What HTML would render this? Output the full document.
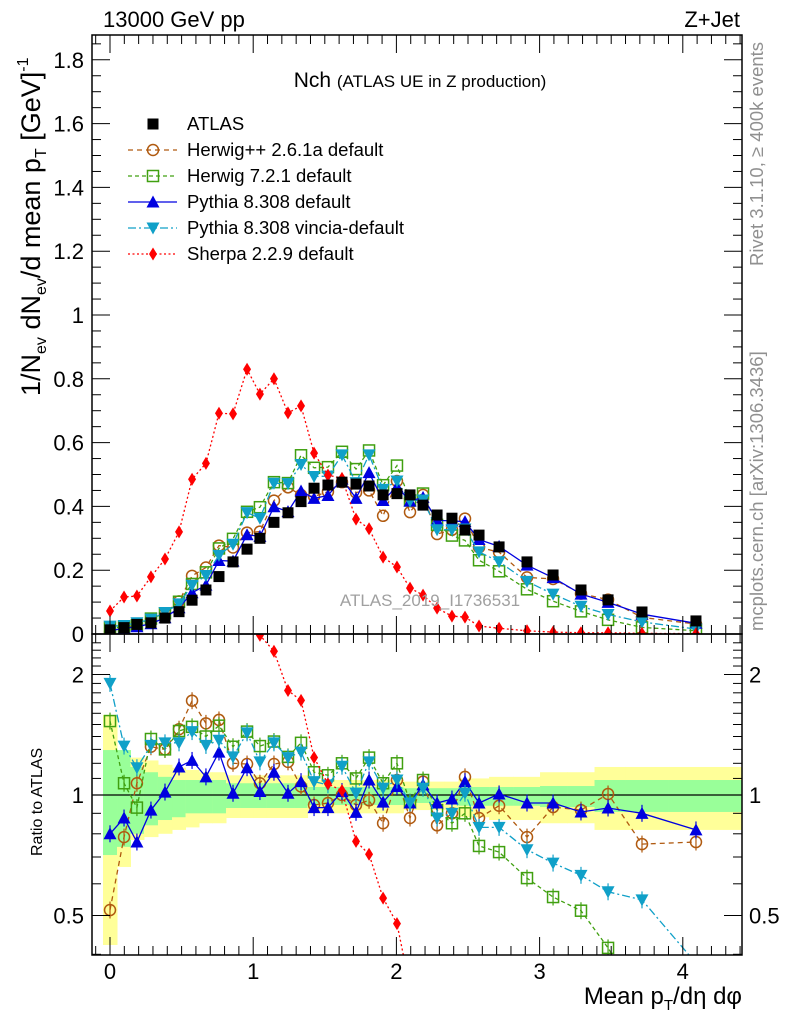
<!DOCTYPE html>
<html><head><meta charset="utf-8"><style>
html,body{margin:0;padding:0;background:#fff;overflow:hidden;}
svg{display:block;font-family:"Liberation Sans",sans-serif;overflow:hidden;}
</style></head><body>
<svg id="chart" width="786" height="1024" viewBox="0 0 786 1024" xmlns="http://www.w3.org/2000/svg">
<defs>
<clipPath id="mainClip"><rect x="92" y="35" width="650" height="599"/></clipPath>
<clipPath id="ratioClip"><rect x="92" y="634" width="650" height="321"/></clipPath>
</defs>
<g id="bands" clip-path="url(#ratioClip)"></g>
<g id="grid"></g>
<g id="mainSeries" clip-path="url(#mainClip)"></g>
<g id="ratioSeries" clip-path="url(#ratioClip)"></g>
<g id="axes"></g>
<text x="103" y="27" font-size="22">13000 GeV pp</text>
<text x="740" y="27" font-size="22" text-anchor="end">Z+Jet</text>
<text x="420" y="87" font-size="21" text-anchor="middle">Nch <tspan font-size="17">(ATLAS UE in Z production)</tspan></text>
<text x="430" y="606" font-size="17" fill="#a0a0a0" text-anchor="middle">ATLAS_2019_I1736531</text>
<text transform="translate(763,266) rotate(-90)" font-size="18.5" fill="#909090">Rivet 3.1.10, ≥ 400k events</text>
<text transform="translate(763,631) rotate(-90)" font-size="18.5" fill="#909090">mcplots.cern.ch [arXiv:1306.3436]</text>
<text transform="translate(40,396) rotate(-90)" font-size="27">1/N<tspan font-size="16" dy="6">ev</tspan><tspan dy="-6"> dN</tspan><tspan font-size="16" dy="6">ev</tspan><tspan dy="-6">/d mean p</tspan><tspan font-size="16" dy="6">T</tspan><tspan dy="-6">  [GeV]</tspan><tspan font-size="16" dy="-12">-1</tspan></text>
<text transform="translate(42,856) rotate(-90)" font-size="16">Ratio to ATLAS</text>
<text x="742" y="1004" font-size="24" text-anchor="end">Mean p<tspan font-size="15" dy="6">T</tspan><tspan dy="-6">/dη dφ</tspan></text>
<g id="legend"></g>
</svg>
<script>
// ---- data ----
const xVals = [0,0.098,0.188,0.286,0.384,0.482,0.573,0.670,0.761,0.859,0.957,1.047,1.145,1.243,1.334,1.425,1.522,1.620,1.718,1.809,1.907,2.004,2.095,2.186,2.284,2.388,2.479,2.577,2.717,2.912,3.094,3.289,3.478,3.715,4.092];
const atlas = [0.013,0.02,0.03,0.035,0.05,0.07,0.106,0.138,0.18,0.226,0.266,0.30,0.35,0.38,0.415,0.457,0.467,0.476,0.47,0.464,0.436,0.44,0.436,0.404,0.373,0.363,0.326,0.31,0.273,0.226,0.185,0.138,0.107,0.069,0.041];
const ratioHerwigPP = [0.516,0.785,1.07,1.32,1.30,1.46,1.72,1.51,1.54,1.20,1.195,1.07,1.195,1.21,1.05,0.944,0.955,1.0,0.944,0.97,0.85,1.09,0.876,1.08,0.84,0.90,1.11,0.876,0.94,0.785,0.933,0.917,1.006,0.754,0.763];
const ratioHerwig7 = [1.53,1.07,0.93,1.38,1.30,1.445,1.48,1.40,1.49,1.32,1.44,1.325,1.36,1.245,1.35,1.14,1.12,1.20,1.10,1.24,1.07,1.20,0.96,1.09,0.917,0.85,0.90,0.746,0.72,0.62,0.556,0.514,0.415,0.30,0.25];
const ratioPythia = [0.80,0.876,0.763,0.917,1.017,1.175,1.22,1.11,1.28,1.01,1.17,1.02,1.14,1.01,1.08,0.93,0.93,1.02,0.905,1.09,0.96,1.05,0.955,1.06,0.955,0.977,1.08,0.955,1.006,0.955,0.955,0.907,0.928,0.90,0.818];
const ratioVincia = [1.90,1.325,1.17,1.33,1.35,1.35,1.44,1.33,1.37,1.245,1.43,1.21,1.35,1.24,1.28,1.08,1.06,1.18,1.01,1.21,1.04,1.09,0.955,1.04,0.876,0.90,1.01,0.83,0.83,0.73,0.676,0.63,0.573,0.547,0.38];
const sherpa = [0.072,0.116,0.119,0.179,0.235,0.32,0.485,0.535,0.692,0.69,0.83,0.752,0.80,0.693,0.715,0.567,0.498,0.488,0.36,0.33,0.241,0.21,0.144,0.122,0.081,0.056,0.053,0.025,0.018,0.01,0.006,0.004,0.004,0.002,0.001];
const yellowUp = [1.585,1.244,1.24,1.22,1.19,1.17,1.155,1.14,1.14,1.12,1.12,1.12,1.12,1.12,1.12,1.09,1.09,1.09,1.09,1.09,1.09,1.09,1.08,1.08,1.08,1.08,1.10,1.10,1.11,1.11,1.14,1.14,1.175,1.175,1.175];
const yellowDn = [0.422,0.661,0.772,0.785,0.80,0.818,0.83,0.85,0.85,0.876,0.876,0.876,0.876,0.876,0.876,0.90,0.90,0.90,0.90,0.90,0.90,0.90,0.917,0.917,0.917,0.917,0.88,0.88,0.866,0.866,0.85,0.85,0.818,0.818,0.818];
const greenUp = [1.295,1.295,1.175,1.14,1.11,1.09,1.09,1.09,1.09,1.07,1.07,1.07,1.07,1.07,1.07,1.047,1.047,1.047,1.047,1.047,1.047,1.047,1.04,1.04,1.04,1.04,1.047,1.047,1.047,1.047,1.053,1.053,1.09,1.09,1.09];
const greenDn = [0.708,0.742,0.80,0.84,0.866,0.88,0.90,0.90,0.90,0.928,0.928,0.928,0.928,0.928,0.928,0.944,0.944,0.944,0.944,0.944,0.944,0.944,0.955,0.955,0.955,0.955,0.94,0.94,0.94,0.94,0.933,0.933,0.907,0.907,0.907];
const yTicksMain = [0,0.2,0.4,0.6,0.8,1,1.2,1.4,1.6,1.8];
const yTickLabelsMain = ["0","0.2","0.4","0.6","0.8","1","1.2","1.4","1.6","1.8"];
const xTicks = [0,1,2,3,4];
const ratioTicks = [0.5,1,2];

// ---- scales ----
const X = v => 110 + v*143.2;
const YM = v => 634 - v*319;
const YR = r => 795 - 120.5*Math.log2(r);
const NS = "http://www.w3.org/2000/svg";
function mk(tag, attrs, parent){const e=document.createElementNS(NS,tag);for(const k in attrs)e.setAttribute(k,attrs[k]);parent.appendChild(e);return e;}

const bandsG = document.getElementById('bands');
function edges(i){const l=i===0?X(xVals[0])-7:(X(xVals[i-1])+X(xVals[i]))/2;const r=i===xVals.length-1?X(xVals[i])+46:(X(xVals[i])+X(xVals[i+1]))/2;return [l,r];}
for(let i=0;i<xVals.length;i++){
  const [l,r]=edges(i);
  const y1=mk('rect',{x:l,y:YR(yellowUp[i]),width:r-l+0.5,height:YR(yellowDn[i])-YR(yellowUp[i]),fill:'#ffff99'},bandsG);
  
  
  const g1=mk('rect',{x:l,y:YR(greenUp[i]),width:r-l+0.5,height:YR(greenDn[i])-YR(greenUp[i]),fill:'#99ff99'},bandsG);
  
  
}

function marker(type,x,y,color,parent){
  const s=5.5;let e;
  if(type==='sq') e=mk('rect',{x:x-s,y:y-s,width:2*s,height:2*s,fill:'#000'},parent);
  else if(type==='circ') e=mk('circle',{cx:x,cy:y,r:s,fill:'none',stroke:color,'stroke-width':1.5},parent);
  else if(type==='osq') e=mk('rect',{x:x-s,y:y-s,width:2*s,height:2*s,fill:'none',stroke:color,'stroke-width':1.5},parent);
  else if(type==='tri') e=mk('polygon',{points:`${x},${y-s-1} ${x-s-1},${y+s} ${x+s+1},${y+s}`,fill:color},parent);
  else if(type==='itri') e=mk('polygon',{points:`${x},${y+s+1} ${x-s-1},${y-s} ${x+s+1},${y-s}`,fill:color},parent);
  else if(type==='dia') e=mk('polygon',{points:`${x},${y-s-1} ${x-s+1.5},${y} ${x},${y+s+1} ${x+s-1.5},${y}`,fill:color},parent);
  return e;
}
const seriesDefs = [
 {name:'herwigpp',ratio:ratioHerwigPP,color:'#b05a10',dash:'5,4',m:'circ'},
 {name:'herwig7',ratio:ratioHerwig7,color:'#40a010',dash:'4,3',m:'osq'},
 {name:'pythia',ratio:ratioPythia,color:'#0000e0',dash:'',m:'tri'},
 {name:'vincia',ratio:ratioVincia,color:'#10a0c8',dash:'8,3,2,3',m:'itri'},
];
const mainG=document.getElementById('mainSeries'), ratioG=document.getElementById('ratioSeries');
function drawSeries(name,mainVals,ratioVals,color,dash,m){
  const gm=mk('g',{},mainG);
  
  
  mk('polyline',{points:mainVals.map((v,i)=>X(xVals[i])+','+YM(v)).join(' '),fill:'none',stroke:color,'stroke-width':1.3,'stroke-dasharray':dash},gm);
  mainVals.forEach((v,i)=>{const p=marker(m,X(xVals[i]),YM(v),color,gm);
    
    });
  const gr=mk('g',{},ratioG);
  
  
  mk('polyline',{points:ratioVals.map((v,i)=>X(xVals[i])+','+YR(v)).join(' '),fill:'none',stroke:color,'stroke-width':1.3,'stroke-dasharray':dash},gr);
  ratioVals.forEach((v,i)=>{
    if(m!=='dia'){mk('line',{x1:X(xVals[i]),x2:X(xVals[i]),y1:YR(v*1.05),y2:YR(v/1.05),stroke:color,'stroke-width':1.2},gr);}
    const p=marker(m,X(xVals[i]),YR(v),color,gr);
    
    });
}
mk('line',{x1:92,x2:742,y1:YR(1),y2:YR(1),stroke:'#000','stroke-width':1.2},ratioG);
seriesDefs.forEach(s=>drawSeries(s.name,s.ratio.map((r,i)=>r*atlas[i]),s.ratio,s.color,s.dash,s.m));
drawSeries('sherpa',sherpa,sherpa.map((v,i)=>v/atlas[i]),'#ff0000','2,2.5','dia');
const gd=mk('g',{},mainG);


atlas.forEach((v,i)=>{const p=marker('sq',X(xVals[i]),YM(v),'#000',gd);
  
  });

const ax=document.getElementById('axes');
mk('rect',{x:92,y:35,width:650,height:599,fill:'none',stroke:'#000','stroke-width':1.5},ax);
mk('rect',{x:92,y:634,width:650,height:321,fill:'none',stroke:'#000','stroke-width':1.5},ax);
for(let v=0;v<=1.86;v+=0.05){const y=YM(v);const maj=Math.abs(v*5-Math.round(v*5))<1e-6;const L=maj?18:9;
  mk('line',{x1:92,x2:92+L,y1:y,y2:y,stroke:'#000'},ax);mk('line',{x1:742,x2:742-L,y1:y,y2:y,stroke:'#000'},ax);}
yTicksMain.forEach((v,i)=>{const t=mk('text',{x:84,y:YM(v)+8,'font-size':22,'text-anchor':'end'},ax);t.textContent=yTickLabelsMain[i];
  
  });
for(let k=-1;k<=44;k++){const v=k/10;const x=X(v);if(x<92||x>742)continue;const maj=k%10===0;const L=maj?18:9;
  [[35,1],[634,-1],[634,1],[955,-1]].forEach(([y0,d])=>mk('line',{x1:x,x2:x,y1:y0,y2:y0+d*L,stroke:'#000'},ax));}
xTicks.forEach(v=>{const t=mk('text',{x:X(v),y:979,'font-size':22,'text-anchor':'middle'},ax);t.textContent=String(v);
  
  });
[0.4,0.5,0.6,0.7,0.8,0.9,1,2].forEach(r=>{const y=YR(r);const maj=ratioTicks.includes(r);const L=maj?18:9;
  mk('line',{x1:92,x2:92+L,y1:y,y2:y,stroke:'#000'},ax);mk('line',{x1:742,x2:742-L,y1:y,y2:y,stroke:'#000'},ax);});
for(let r=1.1;r<2.5;r+=0.1){if(Math.abs(r-2)<1e-6)continue;const y=YR(r);mk('line',{x1:92,x2:101,y1:y,y2:y,stroke:'#000'},ax);mk('line',{x1:742,x2:733,y1:y,y2:y,stroke:'#000'},ax);}
ratioTicks.forEach(r=>{const t=mk('text',{x:84,y:YR(r)+8,'font-size':22,'text-anchor':'end'},ax);t.textContent=String(r);
  
  
  const t2=mk('text',{x:749,y:YR(r)+8,'font-size':22},ax);t2.textContent=String(r);
  
  });

const lg=document.getElementById('legend');
const legendItems=[['ATLAS','#000','', 'sq',false],['Herwig++ 2.6.1a default','#b05a10','5,4','circ',true],['Herwig 7.2.1 default','#40a010','4,3','osq',true],['Pythia 8.308 default','#0000e0','','tri',true],['Pythia 8.308 vincia-default','#10a0c8','8,3,2,3','itri',true],['Sherpa 2.2.9 default','#ff0000','2,2.5','dia',true]];
legendItems.forEach((it,i)=>{const y=124+i*26;const g=mk('g',{},lg);
  
  
  if(it[4])mk('line',{x1:128,x2:177,y1:y,y2:y,stroke:it[1],'stroke-width':1.3,'stroke-dasharray':it[2]},g);
  marker(it[3],153,y,it[1],g);
  const t=mk('text',{x:187,y:y+6,'font-size':18.5},g);t.textContent=it[0];});
</script>
</body></html>
